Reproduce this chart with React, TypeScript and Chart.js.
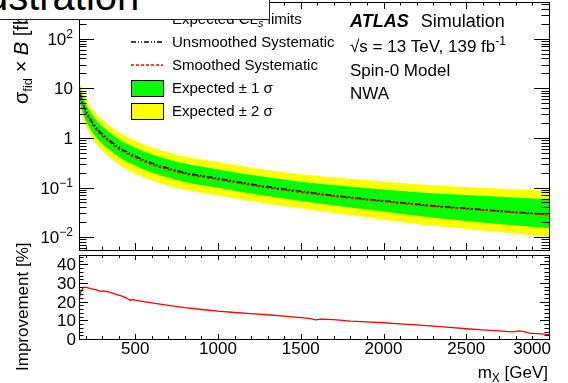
import React, { useEffect, useRef } from 'react';
import { Chart, registerables } from 'chart.js';
Chart.register(...registerables);

const FONT = '"Liberation Sans", Arial, Helvetica, sans-serif';

// ---------- data ----------
const massPoints = [160, 170, 180, 200, 225, 250, 300, 350, 400, 500, 600, 700, 800, 1000, 1250, 1500, 1750, 2000, 2250, 2500, 2750, 3000];
const expectedSmoothed = [8.5, 6.4, 5.0, 3.3, 2.3, 1.7, 1.1, 0.8, 0.6, 0.40, 0.29, 0.23, 0.19, 0.145, 0.105, 0.08, 0.064, 0.052, 0.043, 0.037, 0.032, 0.028];
const expectedUnsmoothed = [9.2, 6.9, 5.4, 3.6, 2.5, 1.85, 1.2, 0.86, 0.65, 0.43, 0.31, 0.245, 0.2, 0.152, 0.11, 0.084, 0.066, 0.054, 0.0445, 0.038, 0.0328, 0.0287];
const plus2Sigma = [15.3, 11.6, 9.25, 6.27, 4.49, 3.4, 2.31, 1.7, 1.29, 0.88, 0.638, 0.508, 0.422, 0.326, 0.239, 0.185, 0.155, 0.132, 0.114, 0.103, 0.0934, 0.0857];
const plus1Sigma = [12.3, 9.34, 7.35, 4.95, 3.47, 2.6, 1.71, 1.25, 0.94, 0.636, 0.461, 0.368, 0.304, 0.232, 0.17, 0.13, 0.108, 0.091, 0.0787, 0.071, 0.064, 0.058];
const minus1Sigma = [5.87, 4.42, 3.45, 2.28, 1.59, 1.17, 0.76, 0.552, 0.414, 0.276, 0.2, 0.158, 0.129, 0.0986, 0.0704, 0.0536, 0.0416, 0.0328, 0.0258, 0.0211, 0.0178, 0.0151];
const minus2Sigma = [4.68, 3.49, 2.7, 1.75, 1.2, 0.867, 0.55, 0.392, 0.288, 0.19, 0.138, 0.109, 0.09, 0.0689, 0.0499, 0.038, 0.0291, 0.0225, 0.0176, 0.0146, 0.0122, 0.0102];

const improvementMass = [160, 170, 185, 200, 230, 260, 290, 310, 340, 380, 420, 450, 470, 480, 500, 550, 600, 700, 800, 900, 1000, 1100, 1200, 1300, 1400, 1500, 1560, 1590, 1620, 1700, 1800, 1900, 2000, 2100, 2200, 2300, 2400, 2500, 2600, 2700, 2780, 2820, 2850, 2880, 2950, 3000];
const improvementPct = [21, 25, 27.5, 27.8, 27, 26.5, 25.5, 25.8, 25.2, 24, 23, 21.8, 20.6, 21.2, 20.8, 20, 19.3, 18, 16.8, 15.8, 14.9, 14.2, 13.6, 13, 12.3, 11.4, 10.9, 10.3, 10.6, 10.4, 9.6, 9.2, 8.7, 8.1, 7.6, 6.9, 6.2, 5.5, 4.9, 4.3, 3.8, 4.3, 4.0, 3.1, 2.8, 2.3];

const xTickValues = [500, 1000, 1500, 2000, 2500, 3000];
const xTickLabels = ['500', '1000', '1500', '2000', '2500', '3000'];
const logTickValues = [0.01, 0.1, 1, 10, 100];
const logTickBases = ['10', '10', '1', '10', '10'];
const logTickExponents = ['\u22122', '\u22121', '', '', '2'];
const impTickValues = [0, 10, 20, 30, 40];
const impTickLabels = ['0', '10', '20', '30', '40'];

const legendLabels = ['Unsmoothed Systematic', 'Smoothed Systematic', 'Expected \u00b1 1 \u03c3', 'Expected \u00b1 2 \u03c3'];
const atlasLines = ['Spin-0 Model', 'NWA'];

// ---------- layout ----------
const W = 568;
const H = 383;
const TOP = { left: 79, right: 549, top: 2, bottom: 250 };
const BOT = { left: 79, right: 549, top: 255, bottom: 339 };

type Part = { t: string; size: number; dy?: number; style?: string; weight?: string };
const fontOf = (p: Part) => `${p.style || 'normal'} ${p.weight || 'normal'} ${p.size}px ${FONT}`;
function drawParts(ctx: CanvasRenderingContext2D, parts: Part[], x: number, y: number, align: 'left' | 'right' = 'left') {
  let total = 0;
  for (const p of parts) { ctx.font = fontOf(p); total += ctx.measureText(p.t).width; }
  let cx = align === 'right' ? x - total : x;
  ctx.textAlign = 'left';
  ctx.textBaseline = 'alphabetic';
  for (const p of parts) {
    ctx.font = fontOf(p);
    ctx.fillText(p.t, cx, y + (p.dy || 0));
    cx += ctx.measureText(p.t).width;
  }
  return total;
}

function frameAndXTicks(ctx: CanvasRenderingContext2D, chart: any, majLen: number, minLen: number) {
  const { left, right, top, bottom } = chart.chartArea;
  const xs = chart.scales.x;
  ctx.save();
  ctx.strokeStyle = '#000';
  ctx.lineWidth = 1;
  ctx.strokeRect(Math.round(left) + 0.5, Math.round(top) + 0.5, Math.round(right - left), Math.round(bottom - top));
  ctx.beginPath();
  for (let v = 200; v < 3000; v += 100) {
    const len = v % 500 === 0 ? majLen : minLen;
    const px = Math.round(xs.getPixelForValue(v)) + 0.5;
    ctx.moveTo(px, bottom); ctx.lineTo(px, bottom - len);
    ctx.moveTo(px, top); ctx.lineTo(px, top + len);
  }
  ctx.stroke();
  ctx.restore();
}

const topPlugin = {
  id: 'topDecor',
  afterDatasetsDraw(chart: any) {
    const ctx: CanvasRenderingContext2D = chart.ctx;
    const { left, right } = chart.chartArea;
    const ys = chart.scales.y;
    frameAndXTicks(ctx, chart, 7, 3.5);
    ctx.save();
    ctx.strokeStyle = '#000';
    ctx.lineWidth = 1;
    ctx.beginPath();
    for (let d = -3; d <= 2; d++) {
      for (let k = 1; k <= 9; k++) {
        const v = k * Math.pow(10, d);
        if (v < ys.min || v > ys.max) continue;
        const py = Math.round(ys.getPixelForValue(v)) + 0.5;
        const len = k === 1 ? 15 : 7.5;
        ctx.moveTo(left, py); ctx.lineTo(left + len, py);
        ctx.moveTo(right, py); ctx.lineTo(right - len, py);
      }
    }
    ctx.stroke();
    ctx.fillStyle = '#000';
    logTickValues.forEach((v, i) => {
      const py = ys.getPixelForValue(v);
      const parts: Part[] = [{ t: logTickBases[i], size: 17 }];
      if (logTickExponents[i]) parts.push({ t: logTickExponents[i], size: 12, dy: -7 });
      drawParts(ctx, parts, 73, py + 6, 'right');
    });
    // y title
    ctx.save();
    ctx.translate(28, 104);
    ctx.rotate(-Math.PI / 2);
    drawParts(ctx, [
      { t: '\u03c3', size: 20 },
      { t: 'fid', size: 13, dy: 4 },
      { t: ' \u00d7 ', size: 20 },
      { t: 'B', size: 20, style: 'italic' },
      { t: ' [fb]', size: 20 },
    ], 0, 0);
    ctx.restore();

    // legend
    drawParts(ctx, [
      { t: 'Expected CL', size: 15 },
      { t: 's', size: 11, dy: 3, style: 'italic' },
      { t: ' limits', size: 15 },
    ], 172, 24);
    const lx0 = 131, lx1 = 163, tx = 172;
    const baselines = [47, 70, 93, 116];
    ctx.lineWidth = 1.5;
    ctx.strokeStyle = '#000';
    ctx.setLineDash([5, 2, 1, 2, 1, 2]);
    ctx.beginPath(); ctx.moveTo(lx0, baselines[0] - 5); ctx.lineTo(lx1, baselines[0] - 5); ctx.stroke();
    ctx.strokeStyle = '#ff0000';
    ctx.setLineDash([3, 2]);
    ctx.beginPath(); ctx.moveTo(lx0, baselines[1] - 5); ctx.lineTo(lx1, baselines[1] - 5); ctx.stroke();
    ctx.setLineDash([]);
    ctx.lineWidth = 1;
    ctx.strokeStyle = '#000';
    ctx.fillStyle = '#00ff00';
    ctx.fillRect(lx0, baselines[2] - 13, lx1 - lx0, 16);
    ctx.strokeRect(lx0 + 0.5, baselines[2] - 13 + 0.5, lx1 - lx0, 16);
    ctx.fillStyle = '#ffff00';
    ctx.fillRect(lx0, baselines[3] - 13, lx1 - lx0, 16);
    ctx.strokeRect(lx0 + 0.5, baselines[3] - 13 + 0.5, lx1 - lx0, 16);
    ctx.fillStyle = '#000';
    legendLabels.forEach((t, i) => drawParts(ctx, [{ t, size: 15 }], tx, baselines[i]));

    // ATLAS label
    const ax = 350;
    const w = drawParts(ctx, [{ t: 'ATLAS', size: 18, style: 'italic', weight: 'bold' }], ax, 27);
    drawParts(ctx, [{ t: 'Simulation', size: 18 }], ax + w + 12, 27);
    drawParts(ctx, [
      { t: '\u221as = 13 TeV, 139 fb', size: 17 },
      { t: '-1', size: 12, dy: -7 },
    ], ax, 52);
    atlasLines.forEach((t, i) => drawParts(ctx, [{ t, size: 17 }], ax, 76 + 23 * i));
    ctx.restore();
  },
};

const botPlugin = {
  id: 'botDecor',
  afterDatasetsDraw(chart: any) {
    const ctx: CanvasRenderingContext2D = chart.ctx;
    const { left, right, bottom } = chart.chartArea;
    const xs = chart.scales.x;
    const ys = chart.scales.y;
    frameAndXTicks(ctx, chart, 5, 3);
    ctx.save();
    ctx.strokeStyle = '#000';
    ctx.lineWidth = 1;
    ctx.beginPath();
    for (let v = 0; v <= 45; v += 2) {
      const py = Math.round(ys.getPixelForValue(v)) + 0.5;
      const len = v % 10 === 0 ? 9 : 4.5;
      ctx.moveTo(left, py); ctx.lineTo(left + len, py);
      ctx.moveTo(right, py); ctx.lineTo(right - len, py);
    }
    ctx.stroke();
    ctx.fillStyle = '#000';
    impTickValues.forEach((v, i) => {
      drawParts(ctx, [{ t: impTickLabels[i], size: 17 }], 76, ys.getPixelForValue(v) + 6, 'right');
    });
    xTickValues.forEach((v, i) => {
      const px = xs.getPixelForValue(v);
      ctx.font = `17px ${FONT}`;
      const tw = ctx.measureText(xTickLabels[i]).width;
      let x = px - tw / 2;
      if (x + tw > 551) x = 551 - tw;
      drawParts(ctx, [{ t: xTickLabels[i], size: 17 }], x, bottom + 15);
    });
    drawParts(ctx, [
      { t: 'm', size: 17 },
      { t: 'X', size: 12, dy: 4 },
      { t: ' [GeV]', size: 17 },
    ], 548, 378, 'right');
    ctx.save();
    ctx.translate(28, 371);
    ctx.rotate(-Math.PI / 2);
    drawParts(ctx, [{ t: 'Improvement [%]', size: 17 }], 0, 0);
    ctx.restore();
    ctx.restore();
  },
};

const pts = (xs: number[], ys: number[]) => xs.map((x, i) => ({ x, y: ys[i] }));

export default function App() {
  const topRef = useRef<HTMLCanvasElement>(null);
  const botRef = useRef<HTMLCanvasElement>(null);

  useEffect(() => {
    const none = 'rgba(0,0,0,0)';
    const common = { pointRadius: 0, cubicInterpolationMode: 'monotone' as const };
    const top = new Chart(topRef.current!, {
      type: 'line',
      data: {
        datasets: [
          { label: 'Smoothed Systematic', data: pts(massPoints, expectedSmoothed), borderColor: '#ff0000', borderWidth: 1.5, borderDash: [3, 2], fill: false, order: 0, ...common },
          { label: 'Unsmoothed Systematic', data: pts(massPoints, expectedUnsmoothed), borderColor: '#000000', borderWidth: 1.5, borderDash: [6, 2, 1.5, 2, 1.5, 2], fill: false, order: 1, ...common },
          { label: 'Expected +1 sigma', data: pts(massPoints, plus1Sigma), borderColor: none, backgroundColor: '#00ff00', fill: 3, order: 2, ...common },
          { label: 'Expected -1 sigma', data: pts(massPoints, minus1Sigma), borderColor: none, fill: false, order: 3, ...common },
          { label: 'Expected +2 sigma', data: pts(massPoints, plus2Sigma), borderColor: none, backgroundColor: '#ffff00', fill: 5, order: 4, ...common },
          { label: 'Expected -2 sigma', data: pts(massPoints, minus2Sigma), borderColor: none, fill: false, order: 5, ...common },
        ],
      },
      options: {
        responsive: false,
        animation: false,
        events: [],
        layout: { padding: { left: TOP.left, right: W - TOP.right, top: TOP.top, bottom: H - TOP.bottom } },
        plugins: { legend: { display: false }, tooltip: { enabled: false } },
        scales: {
          x: { type: 'linear', min: 160, max: 3000, display: false },
          y: { type: 'logarithmic', min: 0.0055, max: 550, display: false },
        },
      },
      plugins: [topPlugin],
    });
    const bot = new Chart(botRef.current!, {
      type: 'line',
      data: {
        datasets: [
          { label: 'Improvement', data: pts(improvementMass, improvementPct), borderColor: '#ff0000', borderWidth: 1.3, pointRadius: 0, fill: false, tension: 0 },
        ],
      },
      options: {
        responsive: false,
        animation: false,
        events: [],
        layout: { padding: { left: BOT.left, right: W - BOT.right, top: BOT.top, bottom: H - BOT.bottom } },
        plugins: { legend: { display: false }, tooltip: { enabled: false } },
        scales: {
          x: { type: 'linear', min: 160, max: 3000, display: false },
          y: { type: 'linear', min: 0, max: 45, display: false },
        },
      },
      plugins: [botPlugin],
    });
    return () => { top.destroy(); bot.destroy(); };
  }, []);

  return (
    <div style={{ position: 'absolute', left: 0, top: 0, width: W, height: H, background: '#fff', overflow: 'hidden' }}>
      <canvas ref={topRef} width={W} height={H} style={{ position: 'absolute', left: 0, top: 0 }} />
      <canvas ref={botRef} width={W} height={H} style={{ position: 'absolute', left: 0, top: 0 }} />
      <div style={{ position: 'absolute', left: 0, top: 0, width: 269, height: 19, background: '#fff', borderRight: '1px solid #222', borderBottom: '1px solid #222', overflow: 'hidden' }}>
        <div style={{ position: 'absolute', left: -43, top: -24, fontFamily: FONT, fontSize: 40, lineHeight: '40px', whiteSpace: 'nowrap', color: '#000' }}>Illustration</div>
      </div>
    </div>
  );
}
